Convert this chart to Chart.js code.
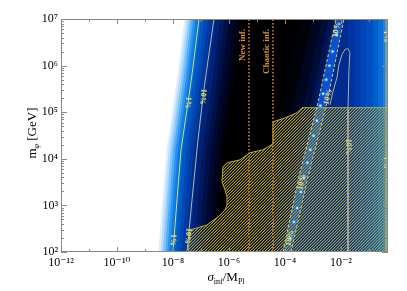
<!DOCTYPE html>
<html>
<head>
<meta charset="utf-8">
<script src="https://cdn.jsdelivr.net/npm/chart.js@4.4.0/dist/chart.umd.min.js"></script>
<style>
  html, body { margin: 0; padding: 0; background: #fff; }
  #wrap { width: 407px; height: 291px; }
</style>
</head>
<body>
<div id="wrap"><canvas id="chart" width="407" height="291"></canvas></div>
<script>
// all values are log10(sigma_inf/M_Pl) and log10(m_phi / GeV)
var xTickExp = [-12, -10, -8, -6, -4, -2];
var yTickExp = [2, 3, 4, 5, 6, 7];
var xRangeExp = [-12, -0.32];
var yRangeExp = [2, 7];

// 1% and 10% contours on the left
var c1Sig = [-8.0, -7.857, -7.714, -7.464, -7.321, -7.071];
var c1M = [2.0, 3.118, 4.194, 5.204, 5.806, 7.0];
var c10Sig = [-7.5, -7.321, -7.107, -6.929, -6.821, -6.536];
var c10M = [2.0, 3.118, 4.409, 5.333, 5.806, 7.0];

// colour levels left of the 1% contour (offset in decades from it)
var leftOffsets = [-0.52, -0.44, -0.36, -0.28, -0.20, -0.12, -0.04, 0.08, 0.20, 0.32, 0.46, 0.60, 0.76, 0.92, 1.08, 1.24, 1.40, 1.55];
var leftColors = ['#ffffff', '#dcefff', '#b4dcff', '#84c6fc', '#52acf6', '#2893ee', '#0c7ee4', '#006ad6', '#0058c6',
  '#0048b4', '#003aa2', '#002e8e', '#002278', '#00185e', '#000f46', '#000830', '#00041c', '#00010a'];

// narrow bright band between the two dashed 10% contours
var bandLeftSig = [-4.071, -3.5, -2.821, -2.179];
var bandRightSig = [-3.786, -3.179, -2.5, -1.893];
var bandM = [2.0, 3.613, 5.204, 7.0];
var glowOffsets = [-1.29, -0.86, -0.5, -0.25, -0.11];
var glowColors = ['#00020a', '#000520', '#000c38', '#001450', '#001c68'];
var rightBase = '#002c90';
var colEdgesSig = [-1.75, -1.55, -1.32, -1.1, -0.88, -0.68, -0.52, -0.4];
var colColors = ['#0032a0', '#003aac', '#0044b8', '#0050c4', '#005ece', '#0a6eda', '#1a82e6', '#2a9af0'];

// dots inside the band
var dotSig = [-2.161, -2.3, -2.414, -2.525, -2.639, -2.736, -2.857, -2.979, -3.093, -3.2, -3.321, -3.436, -3.564, -3.679, -3.807];
var dotM = [6.667, 6.301, 6.0, 5.699, 5.398, 5.14, 4.817, 4.495, 4.194, 3.914, 3.591, 3.29, 2.946, 2.645, 2.301];

// second 10% contour (solid, right)
var c10bSig = [-2.393, -2.286, -2.143, -2.071, -1.964, -1.857, -1.75, -1.679, -1.714, -1.75, -1.75];
var c10bM = [5.161, 5.441, 5.742, 6.022, 6.237, 6.344, 6.366, 6.280, 5.914, 5.054, 2.0];
var edgeSig = -0.393;

// excluded (hatched) region
var hatchSig = [-7.464, -7.393, -6.786, -6.393, -6.143, -6.071, -6.071, -6.143, -6.25, -6.214, -6.071, -5.607, -5.25,
  -4.786, -4.536, -4.429, -4.429, -4.071, -3.571, -3.393, -0.32, -0.32];
var hatchM = [2.0, 2.473, 2.58, 2.753, 2.903, 3.011, 3.183, 3.333, 3.505, 3.828, 3.914, 3.978, 4.129,
  4.194, 4.28, 4.323, 4.796, 4.86, 4.989, 5.097, 5.097, 2.0];

// inflation models
var infNames = ['New inf.', 'Chaotic inf.'];
var infSig = [-5.286, -4.429];

// contour labels: text, log sigma, log m
var labText = ['1%', '1%', '10%', '10%', '10%', '10%', '10%', '10%', '10%', '1%', '1%'];
var labSig = [-7.464, -8.0, -6.929, -7.464, -2.143, -2.464, -3.393, -3.821, -1.75, -0.393, -0.393];
var labM = [5.204, 2.258, 5.333, 2.344, 6.774, 5.333, 3.505, 2.301, 4.258, 6.624, 3.914];

var sup = { '-': '\u207b', '0': '\u2070', '1': '\u00b9', '2': '\u00b2', '3': '\u00b3', '4': '\u2074',
  '5': '\u2075', '6': '\u2076', '7': '\u2077', '8': '\u2078', '9': '\u2079' };
function powLabel(e) {
  return '10' + String(e).split('').map(function (c) { return sup[c]; }).join('');
}
function toPts(sig, m) {
  return sig.map(function (s, i) { return { x: Math.pow(10, s), y: Math.pow(10, m[i]) }; });
}
function fillPoly(ctx, pts, style) {
  ctx.beginPath();
  pts.forEach(function (p, i) { if (i) ctx.lineTo(p[0], p[1]); else ctx.moveTo(p[0], p[1]); });
  ctx.closePath();
  ctx.fillStyle = style;
  ctx.fill();
}

var serif = '"Liberation Serif", "DejaVu Serif", serif';

var heatmap = {
  id: 'heatmap',
  beforeDatasetsDraw: function (chart) {
    var ctx = chart.ctx, a = chart.chartArea, xs = chart.scales.x, ys = chart.scales.y;
    var X = function (e) { return xs.getPixelForValue(Math.pow(10, e)); };
    var Y = function (e) { return ys.getPixelForValue(Math.pow(10, e)); };
    var line = function (sig, m, off) {
      return sig.map(function (s, i) { return [X(s + (off || 0)), Y(m[i])]; });
    };
    ctx.save();
    ctx.beginPath();
    ctx.rect(a.left, a.top, a.right - a.left, a.bottom - a.top);
    ctx.clip();
    ctx.fillStyle = '#000';
    ctx.fillRect(a.left, a.top, a.right - a.left, a.bottom - a.top);

    // right part
    var bandR = line(bandRightSig, bandM);
    var bandRrev = bandR.slice().reverse();
    glowOffsets.forEach(function (off, i) {
      fillPoly(ctx, line(bandLeftSig, bandM, off).concat(bandRrev), glowColors[i]);
    });
    fillPoly(ctx, bandR.concat([[a.right, a.top], [a.right, a.bottom]]), rightBase);
    colEdgesSig.forEach(function (s, i) {
      var x0 = X(s), x1 = i + 1 < colEdgesSig.length ? X(colEdgesSig[i + 1]) : a.right;
      ctx.fillStyle = colColors[i];
      ctx.fillRect(x0, a.top, x1 - x0, a.bottom - a.top);
    });
    fillPoly(ctx, line(bandLeftSig, bandM).concat(bandRrev), '#0a50d0');

    // left gradient
    for (var i = leftOffsets.length - 1; i >= 0; i--) {
      fillPoly(ctx, line(c1Sig, c1M, leftOffsets[i]).concat([[a.left, a.top], [a.left, a.bottom]]), leftColors[i]);
    }

    // hatched region
    var pc = document.createElement('canvas');
    pc.width = 3; pc.height = 3;
    var p = pc.getContext('2d');
    p.fillStyle = '#a89c2c';
    p.fillRect(2, 0, 1, 1); p.fillRect(1, 1, 1, 1); p.fillRect(0, 2, 1, 1);
    p.fillStyle = 'rgba(168,156,44,0.35)';
    p.fillRect(0, 0, 1, 1); p.fillRect(2, 1, 1, 1); p.fillRect(1, 2, 1, 1);
    var hp = line(hatchSig, hatchM);
    fillPoly(ctx, hp, ctx.createPattern(pc, 'repeat'));
    ctx.strokeStyle = '#b8ac34';
    ctx.lineWidth = 1;
    ctx.stroke();
    ctx.restore();
  },
  afterDatasetsDraw: function (chart) {
    var ctx = chart.ctx, a = chart.chartArea, xs = chart.scales.x, ys = chart.scales.y;
    var X = function (e) { return xs.getPixelForValue(Math.pow(10, e)); };
    var Y = function (e) { return ys.getPixelForValue(Math.pow(10, e)); };
    ctx.save();
    ctx.beginPath();
    ctx.rect(a.left, a.top, a.right - a.left, a.bottom - a.top);
    ctx.clip();

    // contour labels
    ctx.font = 'bold 8px ' + serif;
    ctx.textAlign = 'center';
    ctx.textBaseline = 'middle';
    labText.forEach(function (t, i) {
      var ang = labSig[i] < -6 ? 96 : (labSig[i] > -2 ? 90 : -77);
      ctx.save();
      ctx.translate(X(labSig[i]), Y(labM[i]));
      ctx.rotate(ang * Math.PI / 180);
      ctx.fillStyle = labSig[i] > -2 && labSig[i] < -1 ? '#c8c8a0' : '#e8e070';
      ctx.fillText(t, 0, 0);
      ctx.restore();
    });

    // inflation model names
    ctx.font = 'bold 9px ' + serif;
    ctx.fillStyle = '#e0902a';
    ctx.textAlign = 'right';
    infNames.forEach(function (n, i) {
      ctx.save();
      ctx.translate(X(infSig[i]) - 6, a.top + 10);
      ctx.rotate(-Math.PI / 2);
      ctx.fillText(n, 0, 0);
      ctx.restore();
    });
    ctx.restore();

    // frame and inner ticks
    ctx.save();
    ctx.strokeStyle = '#8a8a8a';
    ctx.lineWidth = 1;
    ctx.strokeRect(a.left + 0.5, a.top + 0.5, a.right - a.left - 1, a.bottom - a.top - 1);
    ctx.beginPath();
    for (var d = yRangeExp[0]; d <= yRangeExp[1]; d++) {
      for (var k = 1; k <= 9; k++) {
        if (d === yRangeExp[1] && k > 1) break;
        var y = Math.round(ys.getPixelForValue(k * Math.pow(10, d))) + 0.5;
        var len = k === 1 ? 6 : 3;
        ctx.moveTo(a.left, y); ctx.lineTo(a.left + len, y);
        ctx.moveTo(a.right, y); ctx.lineTo(a.right - len, y);
      }
    }
    for (var e = xRangeExp[0]; e <= xRangeExp[1]; e++) {
      var x = Math.round(X(e)) + 0.5;
      var l = xTickExp.indexOf(e) >= 0 ? 5 : 3;
      ctx.moveTo(x, a.bottom); ctx.lineTo(x, a.bottom - l);
      ctx.moveTo(x, a.top); ctx.lineTo(x, a.top + l);
    }
    ctx.stroke();
    ctx.restore();
  },
  afterDraw: function (chart) {
    var ctx = chart.ctx;
    ctx.save();
    ctx.fillStyle = '#000';
    ctx.textBaseline = 'alphabetic';
    // x title: sigma_inf / M_Pl
    var parts = [['\u03c3', 'italic 13px ', 0], ['inf', '8px ', 3], ['/M', '13px ', 0], ['Pl', '8px ', 3]];
    var w = 0;
    parts.forEach(function (pt) { ctx.font = pt[1] + serif; w += ctx.measureText(pt[0]).width; });
    var cx = 226 - w / 2;
    parts.forEach(function (pt) {
      ctx.font = pt[1] + serif;
      ctx.fillText(pt[0], cx, 281 + pt[2]);
      cx += ctx.measureText(pt[0]).width;
    });
    // y title: m_phi [GeV]
    ctx.translate(36, 133);
    ctx.rotate(-Math.PI / 2);
    var yparts = [['m', '13px ', 0], ['\u03c6', 'italic 8px ', 3], [' [GeV]', '13px ', 0]];
    w = 0;
    yparts.forEach(function (pt) { ctx.font = pt[1] + serif; w += ctx.measureText(pt[0]).width; });
    cx = -w / 2;
    yparts.forEach(function (pt) {
      ctx.font = pt[1] + serif;
      ctx.fillText(pt[0], cx, pt[2]);
      cx += ctx.measureText(pt[0]).width;
    });
    ctx.restore();
  }
};

var vline = function (s) { return [{ x: Math.pow(10, s), y: Math.pow(10, yRangeExp[0]) }, { x: Math.pow(10, s), y: Math.pow(10, yRangeExp[1]) }]; };

var datasets = [
  { data: toPts(dotSig, dotM), showLine: false, pointRadius: 1.2, pointBackgroundColor: '#a8ecff', pointBorderWidth: 0, order: 1 },
  { data: toPts(dotSig, dotM), showLine: false, pointRadius: 2.2, pointBackgroundColor: 'rgba(60,150,240,0.5)', pointBorderWidth: 0, order: 2 },
  { data: toPts(c1Sig, c1M), showLine: true, borderColor: '#d8d870', borderWidth: 1, pointRadius: 0, order: 3 },
  { data: toPts(c10Sig, c10M), showLine: true, borderColor: '#b4b4a4', borderWidth: 1, pointRadius: 0, order: 3 },
  { data: toPts(bandLeftSig, bandM), showLine: true, borderColor: '#d8c858', borderWidth: 1, borderDash: [3, 2], pointRadius: 0, order: 3 },
  { data: toPts(bandRightSig, bandM), showLine: true, borderColor: '#d8c858', borderWidth: 1, borderDash: [3, 2], pointRadius: 0, order: 3 },
  { data: toPts(c10bSig, c10bM), showLine: true, borderColor: '#b0ac98', borderWidth: 1, pointRadius: 0, order: 3 },
  { data: vline(edgeSig), showLine: true, borderColor: 'rgba(210,200,90,0.8)', borderWidth: 1, pointRadius: 0, order: 3 },
  { data: vline(infSig[0]), showLine: true, borderColor: '#d98c2e', borderWidth: 1.5, borderDash: [1.5, 2], pointRadius: 0, order: 3 },
  { data: vline(infSig[1]), showLine: true, borderColor: '#d98c2e', borderWidth: 1.5, borderDash: [1.5, 2], pointRadius: 0, order: 3 }
];

new Chart(document.getElementById('chart'), {
  type: 'scatter',
  data: { datasets: datasets },
  options: {
    responsive: false,
    animation: false,
    devicePixelRatio: 1,
    events: [],
    layout: { padding: { left: 0, right: 19, top: 19, bottom: 0 } },
    plugins: { legend: { display: false }, tooltip: { enabled: false } },
    scales: {
      x: {
        type: 'logarithmic',
        min: Math.pow(10, xRangeExp[0]),
        max: Math.pow(10, xRangeExp[1]),
        grid: { display: false, drawTicks: false },
        border: { display: false },
        afterBuildTicks: function (scale) {
          scale.ticks = xTickExp.map(function (e) { return { value: Math.pow(10, e) }; });
        },
        afterFit: function (scale) { scale.height = 39; },
        ticks: {
          autoSkip: false, maxRotation: 0, padding: 4, color: '#000',
          font: { family: serif, size: 12 },
          callback: function (v) { return powLabel(Math.round(Math.log10(v))); }
        }
      },
      y: {
        type: 'logarithmic',
        min: Math.pow(10, yRangeExp[0]),
        max: Math.pow(10, yRangeExp[1]),
        grid: { display: false, drawTicks: false },
        border: { display: false },
        afterBuildTicks: function (scale) {
          scale.ticks = yTickExp.map(function (e) { return { value: Math.pow(10, e) }; });
        },
        afterFit: function (scale) { scale.width = 61; },
        ticks: {
          autoSkip: false, padding: 3, color: '#000',
          font: { family: serif, size: 12 },
          callback: function (v) { return powLabel(Math.round(Math.log10(v))); }
        }
      }
    }
  },
  plugins: [heatmap]
});
</script>
</body>
</html>
